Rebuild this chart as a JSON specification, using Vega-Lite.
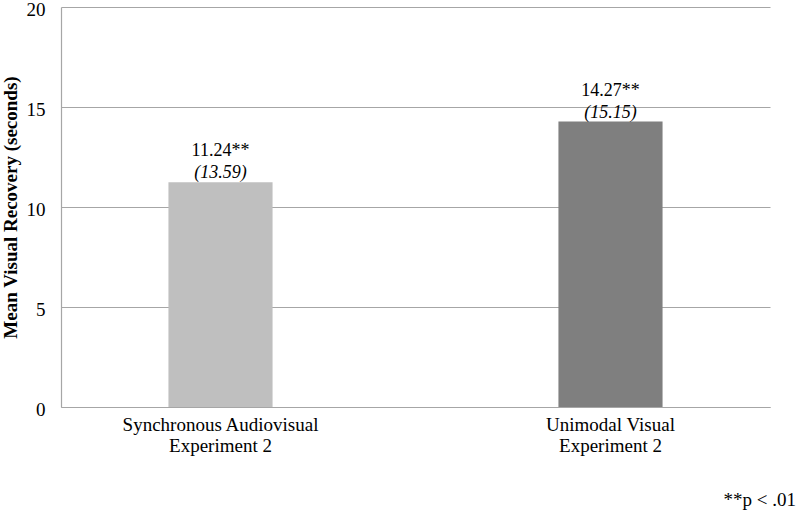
{
  "$schema": "https://vega.github.io/schema/vega-lite/v6.json",
  "autosize": "none",
  "width": 709,
  "height": 400,
  "padding": {"left": 61, "top": 7, "right": 30, "bottom": 113},
  "background": "white",
  "config": {
    "font": "Liberation Serif",
    "view": {"stroke": null}
  },
  "title": {
    "text": "**p < .01",
    "orient": "bottom",
    "anchor": "end",
    "font": "Liberation Serif",
    "fontSize": 19,
    "fontWeight": "normal",
    "color": "black",
    "offset": 36,
    "dx": 26
  },
  "data": {
    "values": [
      {"condition": "Synchronous Audiovisual\nExperiment 2", "mean": 11.24, "sd": 13.59, "sig": "**"},
      {"condition": "Unimodal Visual\nExperiment 2", "mean": 14.27, "sd": 15.15, "sig": "**"}
    ]
  },
  "encoding": {
    "x": {
      "field": "condition",
      "type": "nominal",
      "sort": null,
      "scale": {"paddingInner": 0.733, "paddingOuter": 0.2755},
      "axis": {
        "title": null,
        "labelAngle": 0,
        "labelExpr": "split(datum.label, '\\n')",
        "labelFontSize": 19,
        "labelColor": "black",
        "labelLineHeight": 21,
        "labelPadding": 8,
        "labelLimit": 400,
        "ticks": false,
        "domainColor": "#a6a6a6",
        "domainWidth": 1.2
      }
    },
    "y": {
      "field": "mean",
      "type": "quantitative",
      "scale": {"domain": [0, 20]},
      "axis": {
        "title": "Mean Visual Recovery (seconds)",
        "titleFontSize": 19,
        "titleFontWeight": "bold",
        "titleColor": "black",
        "titlePadding": 6,
        "values": [0, 5, 10, 15, 20],
        "labelFontSize": 19,
        "labelColor": "black",
        "labelPadding": 16,
        "labelOffset": 2,
        "ticks": false,
        "domainColor": "#a6a6a6",
        "domainWidth": 1.2,
        "gridColor": "#a6a6a6",
        "gridWidth": 1.2
      }
    }
  },
  "layer": [
    {
      "mark": {"type": "bar"},
      "encoding": {
        "color": {
          "field": "condition",
          "type": "nominal",
          "scale": {"range": ["#bfbfbf", "#7f7f7f"]},
          "legend": null
        }
      }
    },
    {
      "transform": [{"calculate": "'(' + format(datum.sd, '.2f') + ')'", "as": "sdlabel"}],
      "mark": {"type": "text", "baseline": "alphabetic", "dy": -4, "fontSize": 18, "fontStyle": "italic", "color": "black"},
      "encoding": {
        "text": {"field": "sdlabel", "type": "nominal"}
      }
    },
    {
      "transform": [{"calculate": "format(datum.mean, '.2f') + datum.sig", "as": "vlabel"}],
      "mark": {"type": "text", "baseline": "alphabetic", "dy": -26, "fontSize": 18, "color": "black"},
      "encoding": {
        "text": {"field": "vlabel", "type": "nominal"}
      }
    }
  ]
}
